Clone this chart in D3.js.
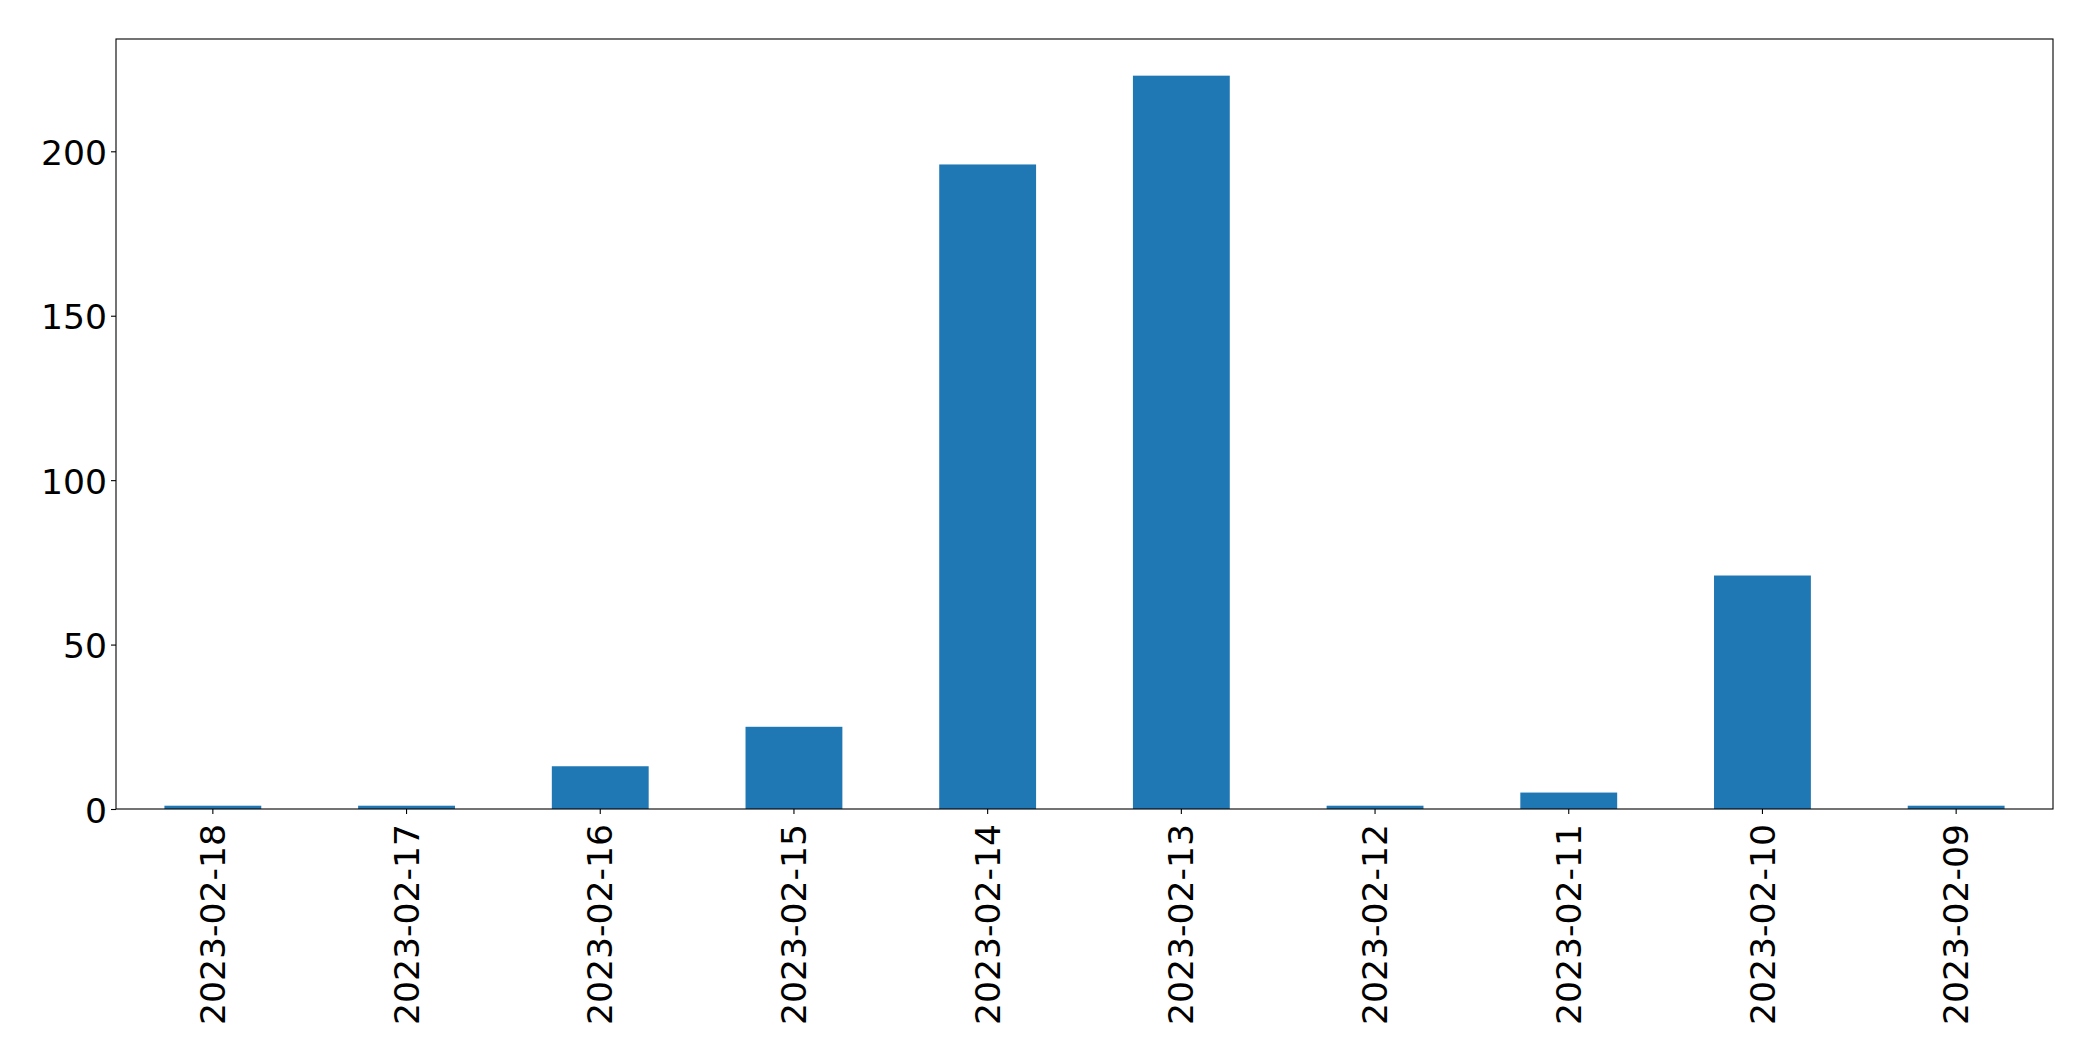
<!DOCTYPE html>
<html><head><meta charset="utf-8">
<script src="https://cdn.jsdelivr.net/npm/d3@7"></script>
<style>body{margin:0;background:#fff}svg text{font-family:"DejaVu Sans",sans-serif}</style>
</head><body>
<script>
const categories = ["2023-02-18","2023-02-17","2023-02-16","2023-02-15","2023-02-14","2023-02-13","2023-02-12","2023-02-11","2023-02-10","2023-02-09"];
const values = [1,1,13,25,196,223,1,5,71,1];
const yTicks = [0,50,100,150,200];

const W=2093,H=1061;
const m={left:116,right:2053,top:39,bottom:809};
const svg=d3.select("body").append("svg").attr("width",W).attr("height",H);
const x=d3.scaleBand().domain(categories).range([m.left,m.right]).paddingInner(0.5).paddingOuter(0.25);
const y=d3.scaleLinear().domain([0,d3.max(values)*1.05]).range([m.bottom,m.top]);

svg.selectAll("rect.bar").data(values).join("rect").attr("class","bar")
  .attr("x",(d,i)=>x(categories[i])).attr("width",x.bandwidth())
  .attr("y",d=>y(d)).attr("height",d=>y(0)-y(d)).attr("fill","#1f77b4");

const fs="34.6px";
const ya=svg.append("g").attr("transform",`translate(${m.left},0)`)
  .call(d3.axisLeft(y).tickValues(yTicks).tickSize(5).tickPadding(4).tickFormat(d3.format("d")));
ya.select(".domain").remove();
ya.selectAll("line").attr("stroke","#000").attr("stroke-width",1.1);
ya.selectAll("text").attr("font-size",fs).attr("fill","#000").attr("font-family","DejaVu Sans").attr("dy","0.38em");

const xa=svg.append("g").attr("transform",`translate(0,${m.bottom})`)
  .call(d3.axisBottom(x).tickSize(5).tickPadding(5));
xa.select(".domain").remove();
xa.selectAll("line").attr("stroke","#000").attr("stroke-width",1.1);
xa.selectAll("text").attr("font-size",fs).attr("fill","#000").attr("font-family","DejaVu Sans")
  .attr("transform","rotate(-90)").attr("text-anchor","end")
  .attr("x",-15).attr("y",0).attr("dy","0.35em");

svg.append("rect").attr("x",m.left).attr("y",m.top).attr("width",m.right-m.left).attr("height",m.bottom-m.top)
  .attr("fill","none").attr("stroke","#000").attr("stroke-width",1.1);
</script>
</body></html>
